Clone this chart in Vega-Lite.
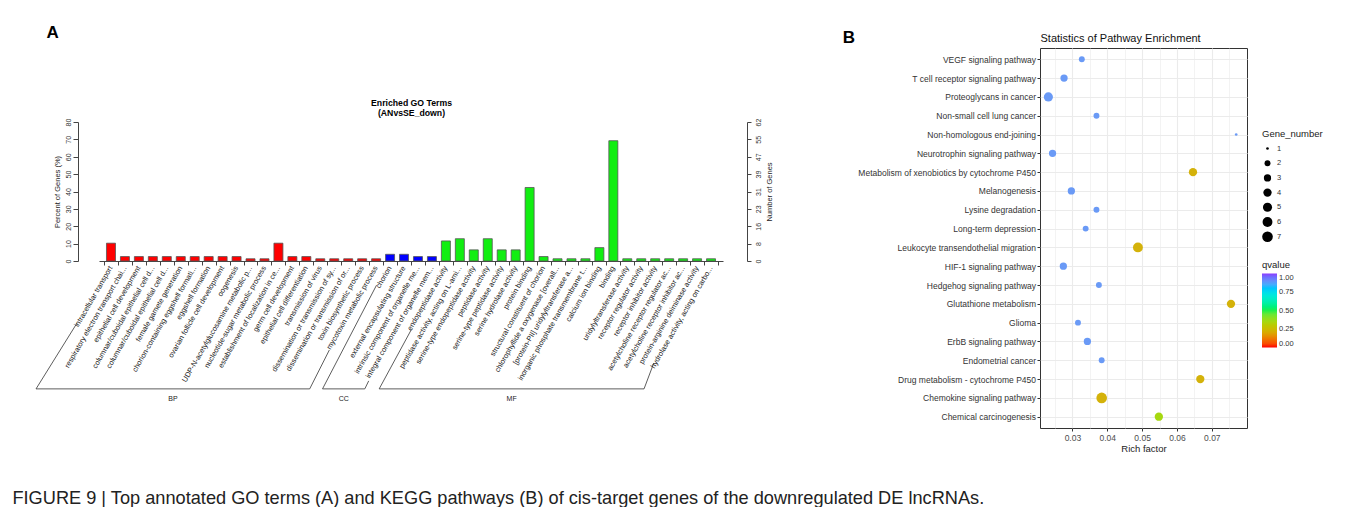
{
  "$schema": "https://vega.github.io/schema/vega-lite/v6.json",
  "background": "white",
  "padding": {"left": 12, "top": 24, "right": 0, "bottom": 0},
  "spacing": 69,
  "columns": 2,
  "align": "none",
  "resolve": {"scale": {"color": "independent", "size": "independent"}, "legend": {"color": "independent", "size": "independent"}},
  "title": {"text": "FIGURE 9 | Top annotated GO terms (A) and KEGG pathways (B) of cis-target genes of the downregulated DE lncRNAs.", "orient": "bottom", "anchor": "start", "frame": "bounds", "fontSize": 18.2, "fontWeight": "normal", "color": "#222", "offset": 36, "dx": -22},
  "config": {
    "font": "Liberation Sans",
    "axis": {"labelColor": "#333", "titleColor": "#222", "domainColor": "#333", "tickColor": "#333", "labelFont": "Liberation Sans", "titleFont": "Liberation Sans", "titleFontWeight": "normal"},
    "legend": {"labelColor": "#333", "titleColor": "#222", "titleFontWeight": "normal", "labelFont": "Liberation Sans", "titleFont": "Liberation Sans"},
    "title": {"font": "Liberation Sans", "color": "#000"}
  },
  "datasets": {
    "go": [
      {"idx": 1, "term": "intracellular transport", "cat": "BP", "pct": 10.26},
      {"idx": 2, "term": "respiratory electron transport chai...", "cat": "BP", "pct": 2.56},
      {"idx": 3, "term": "epithelial cell development", "cat": "BP", "pct": 2.56},
      {"idx": 4, "term": "columnar/cuboidal epithelial cell d...", "cat": "BP", "pct": 2.56},
      {"idx": 5, "term": "columnar/cuboidal epithelial cell d...", "cat": "BP", "pct": 2.56},
      {"idx": 6, "term": "female gamete generation", "cat": "BP", "pct": 2.56},
      {"idx": 7, "term": "chorion-containing eggshell formati...", "cat": "BP", "pct": 2.56},
      {"idx": 8, "term": "eggshell formation", "cat": "BP", "pct": 2.56},
      {"idx": 9, "term": "ovarian follicle cell development", "cat": "BP", "pct": 2.56},
      {"idx": 10, "term": "oogenesis", "cat": "BP", "pct": 2.56},
      {"idx": 11, "term": "UDP-N-acetylglucosamine metabolic p...", "cat": "BP", "pct": 1.28},
      {"idx": 12, "term": "nucleotide-sugar metabolic process", "cat": "BP", "pct": 1.28},
      {"idx": 13, "term": "establishment of localization in ce...", "cat": "BP", "pct": 10.26},
      {"idx": 14, "term": "germ cell development", "cat": "BP", "pct": 2.56},
      {"idx": 15, "term": "epithelial cell differentiation", "cat": "BP", "pct": 2.56},
      {"idx": 16, "term": "transmission of virus", "cat": "BP", "pct": 1.28},
      {"idx": 17, "term": "dissemination or transmission of sy...", "cat": "BP", "pct": 1.28},
      {"idx": 18, "term": "dissemination or transmission of or...", "cat": "BP", "pct": 1.28},
      {"idx": 19, "term": "toxin biosynthetic process", "cat": "BP", "pct": 1.28},
      {"idx": 20, "term": "mycotoxin metabolic process", "cat": "BP", "pct": 1.28},
      {"idx": 21, "term": "chorion", "cat": "CC", "pct": 3.85},
      {"idx": 22, "term": "external encapsulating structure", "cat": "CC", "pct": 3.85},
      {"idx": 23, "term": "intrinsic component of organelle me...", "cat": "CC", "pct": 2.56},
      {"idx": 24, "term": "integral component of organelle mem...", "cat": "CC", "pct": 2.56},
      {"idx": 25, "term": "endopeptidase activity", "cat": "MF", "pct": 11.54},
      {"idx": 26, "term": "peptidase activity, acting on L-ami...", "cat": "MF", "pct": 12.82},
      {"idx": 27, "term": "serine-type endopeptidase activity", "cat": "MF", "pct": 6.41},
      {"idx": 28, "term": "peptidase activity", "cat": "MF", "pct": 12.82},
      {"idx": 29, "term": "serine-type peptidase activity", "cat": "MF", "pct": 6.41},
      {"idx": 30, "term": "serine hydrolase activity", "cat": "MF", "pct": 6.41},
      {"idx": 31, "term": "protein binding", "cat": "MF", "pct": 42.31},
      {"idx": 32, "term": "structural constituent of chorion", "cat": "MF", "pct": 2.56},
      {"idx": 33, "term": "chlorophyllide a oxygenase [overall...", "cat": "MF", "pct": 1.28},
      {"idx": 34, "term": "[protein-PII] uridylyltransferase a...", "cat": "MF", "pct": 1.28},
      {"idx": 35, "term": "inorganic phosphate transmembrane t...", "cat": "MF", "pct": 1.28},
      {"idx": 36, "term": "calcium ion binding", "cat": "MF", "pct": 7.69},
      {"idx": 37, "term": "binding", "cat": "MF", "pct": 69.23},
      {"idx": 38, "term": "uridylyltransferase activity", "cat": "MF", "pct": 1.28},
      {"idx": 39, "term": "receptor regulator activity", "cat": "MF", "pct": 1.28},
      {"idx": 40, "term": "receptor inhibitor activity", "cat": "MF", "pct": 1.28},
      {"idx": 41, "term": "acetylcholine receptor regulator ac...", "cat": "MF", "pct": 1.28},
      {"idx": 42, "term": "acetylcholine receptor inhibitor ac...", "cat": "MF", "pct": 1.28},
      {"idx": 43, "term": "protein-arginine deiminase activity", "cat": "MF", "pct": 1.28},
      {"idx": 44, "term": "hydrolase activity, acting on carbo...", "cat": "MF", "pct": 1.28}
    ],
    "brk": [
      {"g": "BP", "o": 1, "bx": -1.44, "by": -35.8},
      {"g": "BP", "o": 2, "bx": -4.37, "by": -73.6},
      {"g": "BP", "o": 3, "bx": 15.24, "by": -73.6},
      {"g": "BP", "o": 4, "bx": 16.65, "by": -51.2},
      {"g": "CC", "o": 1, "bx": 20.03, "by": -13.9},
      {"g": "CC", "o": 2, "bx": 16.16, "by": -73.6},
      {"g": "CC", "o": 3, "bx": 19.19, "by": -73.6},
      {"g": "CC", "o": 4, "bx": 19.47, "by": -69.0},
      {"g": "MF", "o": 1, "bx": 22.53, "by": -39.4},
      {"g": "MF", "o": 2, "bx": 20.22, "by": -73.6},
      {"g": "MF", "o": 3, "bx": 39.2, "by": -73.6},
      {"g": "MF", "o": 4, "bx": 39.9, "by": -58.7}
    ],
    "grp": [
      {"g": "BP", "gx": 5.44, "gy": -79.4},
      {"g": "CC", "gx": 17.68, "gy": -79.4},
      {"g": "MF", "gx": 29.71, "gy": -79.4}
    ],
    "kegg": [
      {"pathway": "VEGF signaling pathway", "rich": 0.0327, "gene": 2, "q": 0.88},
      {"pathway": "T cell receptor signaling pathway", "rich": 0.0276, "gene": 3, "q": 0.88},
      {"pathway": "Proteoglycans in cancer", "rich": 0.0231, "gene": 5, "q": 0.88},
      {"pathway": "Non-small cell lung cancer", "rich": 0.0369, "gene": 2, "q": 0.88},
      {"pathway": "Non-homologous end-joining", "rich": 0.077, "gene": 1, "q": 0.88},
      {"pathway": "Neurotrophin signaling pathway", "rich": 0.0243, "gene": 3, "q": 0.88},
      {"pathway": "Metabolism of xenobiotics by cytochrome P450", "rich": 0.0646, "gene": 4, "q": 0.22},
      {"pathway": "Melanogenesis", "rich": 0.0297, "gene": 3, "q": 0.88},
      {"pathway": "Lysine degradation", "rich": 0.0369, "gene": 2, "q": 0.88},
      {"pathway": "Long-term depression", "rich": 0.0338, "gene": 2, "q": 0.88},
      {"pathway": "Leukocyte transendothelial migration", "rich": 0.0488, "gene": 6, "q": 0.22},
      {"pathway": "HIF-1 signaling pathway", "rich": 0.0274, "gene": 3, "q": 0.88},
      {"pathway": "Hedgehog signaling pathway", "rich": 0.0376, "gene": 2, "q": 0.88},
      {"pathway": "Glutathione metabolism", "rich": 0.0755, "gene": 4, "q": 0.22},
      {"pathway": "Glioma", "rich": 0.0316, "gene": 2, "q": 0.88},
      {"pathway": "ErbB signaling pathway", "rich": 0.0343, "gene": 3, "q": 0.88},
      {"pathway": "Endometrial cancer", "rich": 0.0384, "gene": 2, "q": 0.88},
      {"pathway": "Drug metabolism - cytochrome P450", "rich": 0.0667, "gene": 4, "q": 0.22},
      {"pathway": "Chemokine signaling pathway", "rich": 0.0384, "gene": 7, "q": 0.22},
      {"pathway": "Chemical carcinogenesis", "rich": 0.0548, "gene": 4, "q": 0.35}
    ]
  },
  "concat": [
    {
      "title": {"text": "A", "anchor": "start", "frame": "bounds", "fontSize": 17, "fontWeight": "bold", "offset": 6, "dx": 12},
      "spacing": 0,
      "vconcat": [
        {
          "width": 10,
          "height": 50,
          "view": {"stroke": null},
          "data": {"values": [{"s": ""}]},
          "mark": {"type": "text"},
          "encoding": {"text": {"field": "s"}}
        },
        {
          "width": 624,
          "height": 139,
          "view": {"stroke": null},
          "resolve": {"axis": {"x": "independent", "y": "independent"}},
          "layer": [
            {
              "data": {"name": "go"},
              "mark": {"type": "bar", "width": 9, "stroke": "#555", "strokeWidth": 0.8},
              "encoding": {
                "x": {"field": "idx", "type": "quantitative", "scale": {"domain": [0.5, 44.5], "nice": false, "zero": false},
                  "axis": {"orient": "bottom", "values": [0.5,1.5,2.5,3.5,4.5,5.5,6.5,7.5,8.5,9.5,10.5,11.5,12.5,13.5,14.5,15.5,16.5,17.5,18.5,19.5,20.5,21.5,22.5,23.5,24.5,25.5,26.5,27.5,28.5,29.5,30.5,31.5,32.5,33.5,34.5,35.5,36.5,37.5,38.5,39.5,40.5,41.5,42.5,43.5,44.5], "labels": false, "title": null, "grid": false, "tickSize": 4, "domainColor": "#444", "tickColor": "#444"}},
                "y": {"field": "pct", "type": "quantitative", "scale": {"domain": [0, 80], "nice": false, "zero": false},
                  "axis": {"orient": "left", "values": [0,10,20,30,40,50,60,70,80], "offset": 21, "title": "Percent of Genes (%)", "labelAngle": -90, "grid": false, "tickSize": 5, "labelFontSize": 7, "titleFontSize": 7.5, "labelPadding": 2, "titlePadding": 3, "domainColor": "#444", "tickColor": "#444"}},
                "color": {"field": "cat", "type": "nominal", "scale": {"domain": ["BP", "CC", "MF"], "range": ["#ff0000", "#0000ff", "#11ee11"]}, "legend": null}
              }
            },
            {
              "data": {"name": "go"},
              "mark": {"type": "bar", "width": 9, "opacity": 0},
              "encoding": {
                "x": {"field": "idx", "type": "quantitative", "scale": {"domain": [0.5, 44.5], "nice": false, "zero": false},
                  "axis": {"orient": "top", "title": ["Enriched GO Terms", "(ANvsSE_down)"], "labels": false, "ticks": false, "domain": false, "grid": false, "titleFontWeight": "bold", "titleFontSize": 8.7, "titleColor": "#000", "titlePadding": 5, "titleLineHeight": 10}},
                "y": {"field": "pct", "type": "quantitative", "scale": {"domain": [0, 80], "nice": false, "zero": false},
                  "axis": {"orient": "right", "values": [0,10,20,30,40,50,60,70,80], "labelExpr": "round(datum.value*0.78)", "offset": 24, "title": "Number of Genes", "titleAngle": 270, "titleBaseline": "top", "labelAngle": -90, "grid": false, "tickSize": 4, "labelFontSize": 7, "titleFontSize": 7.5, "labelPadding": 3, "titlePadding": 4, "domainColor": "#444", "tickColor": "#444"}}
              }
            },
            {
              "data": {"name": "go"},
              "mark": {"type": "text", "angle": 300, "align": "right", "baseline": "middle", "dx": -5, "dy": 3, "fontSize": 7.4, "color": "#222"},
              "encoding": {
                "x": {"field": "idx", "type": "quantitative", "scale": {"domain": [0.5, 44.5], "nice": false, "zero": false}, "axis": null},
                "y": {"datum": 0, "type": "quantitative", "scale": {"domain": [0, 80], "nice": false, "zero": false}, "axis": null},
                "text": {"field": "term"}
              }
            },
            {
              "data": {"name": "brk"},
              "mark": {"type": "line", "color": "#333", "strokeWidth": 0.8},
              "encoding": {
                "x": {"field": "bx", "type": "quantitative", "scale": {"domain": [0.5, 44.5], "nice": false, "zero": false}, "axis": null},
                "y": {"field": "by", "type": "quantitative", "scale": {"domain": [0, 80], "nice": false, "zero": false}, "axis": null},
                "detail": {"field": "g"},
                "order": {"field": "o"}
              }
            },
            {
              "data": {"name": "grp"},
              "mark": {"type": "text", "fontSize": 7, "color": "#222", "baseline": "middle"},
              "encoding": {
                "x": {"field": "gx", "type": "quantitative", "scale": {"domain": [0.5, 44.5], "nice": false, "zero": false}, "axis": null},
                "y": {"field": "gy", "type": "quantitative", "scale": {"domain": [0, 80], "nice": false, "zero": false}, "axis": null},
                "text": {"field": "g"}
              }
            }
          ]
        }
      ]
    },
    {
      "width": 207,
      "height": 380,
      "view": {"stroke": "#333", "strokeWidth": 1},
      "title": {"text": "B", "anchor": "start", "frame": "bounds", "fontSize": 17, "fontWeight": "bold", "offset": -15, "dx": -15},
      "resolve": {"axis": {"x": "independent", "y": "independent"}},
      "layer": [
        {
          "data": {"name": "kegg"},
          "mark": {"type": "circle", "opacity": 1},
          "encoding": {
            "x": {"field": "rich", "type": "quantitative", "scale": {"domain": [0.0207, 0.0801], "nice": false, "zero": false},
              "axis": {"orient": "bottom", "title": "Rich factor", "values": [0.025,0.03,0.035,0.04,0.045,0.05,0.055,0.06,0.065,0.07,0.075], "format": ".2f", "labelOverlap": false,
                "labelOpacity": {"condition": {"test": "abs(datum.value*100 - round(datum.value*100)) > 0.25", "value": 0}, "value": 1},
                "tickOpacity": {"condition": {"test": "abs(datum.value*100 - round(datum.value*100)) > 0.25", "value": 0}, "value": 1},
                "gridWidth": {"condition": {"test": "abs(datum.value*100 - round(datum.value*100)) > 0.25", "value": 0.6}, "value": 1.1},
                "grid": true, "gridColor": "#ebebeb", "tickSize": 3, "labelFontSize": 8.5, "titleFontSize": 9.5, "labelPadding": 2, "titlePadding": 2, "domain": false, "labelColor": "#4d4d4d"}},
            "y": {"field": "pathway", "type": "nominal",
              "sort": ["VEGF signaling pathway", "T cell receptor signaling pathway", "Proteoglycans in cancer", "Non-small cell lung cancer", "Non-homologous end-joining", "Neurotrophin signaling pathway", "Metabolism of xenobiotics by cytochrome P450", "Melanogenesis", "Lysine degradation", "Long-term depression", "Leukocyte transendothelial migration", "HIF-1 signaling pathway", "Hedgehog signaling pathway", "Glutathione metabolism", "Glioma", "ErbB signaling pathway", "Endometrial cancer", "Drug metabolism - cytochrome P450", "Chemokine signaling pathway", "Chemical carcinogenesis"],
              "scale": {"type": "point", "padding": 0.6},
              "axis": {"title": null, "grid": true, "gridColor": "#ebebeb", "gridWidth": 1.1, "tickSize": 3, "labelFontSize": 8.5, "labelColor": "#333", "labelPadding": 1.5, "domain": false}},
            "size": {"field": "gene", "type": "quantitative", "scale": {"domain": [1,2,3,4,5,6,7], "range": [7,35,53,69,83,98,113]},
              "legend": {"title": "Gene_number", "orient": "none", "legendX": 222, "legendY": 81, "values": [1,2,3,4,5,6,7], "symbolFillColor": "#000", "symbolStrokeColor": "#000", "symbolStrokeWidth": 0, "symbolOpacity": 1, "symbolType": "circle", "titleFontSize": 9.5, "labelFontSize": 7.5, "clipHeight": 12, "rowPadding": 2.7, "titlePadding": 4, "titleAnchor": "start"}},
            "color": {"field": "q", "type": "quantitative", "scale": {"domain": [0, 0.1, 0.22, 0.35, 0.5, 0.72, 0.88, 1], "range": ["#ff0000", "#f26b00", "#d4b20a", "#a6d810", "#1ef04a", "#22e8e0", "#6a9af6", "#8c3cff"]},
              "legend": {"title": "qvalue", "orient": "none", "legendX": 222, "legendY": 212, "direction": "vertical", "gradientLength": 74, "gradientThickness": 15, "values": [0, 0.25, 0.5, 0.75, 1], "format": ".2f", "titleFontSize": 9.5, "labelFontSize": 7.5, "titlePadding": 4, "titleAnchor": "start"}}
          }
        },
        {
          "data": {"name": "kegg"},
          "mark": {"type": "circle", "opacity": 0},
          "encoding": {
            "x": {"field": "rich", "type": "quantitative", "scale": {"domain": [0.0207, 0.0801], "nice": false, "zero": false},
              "axis": {"orient": "top", "title": "Statistics of Pathway Enrichment", "labels": false, "ticks": false, "domain": false, "grid": false, "titleAnchor": "start", "titleFontSize": 11, "titleFontWeight": "normal", "titleColor": "#111", "titlePadding": 5}},
            "y": {"field": "pathway", "type": "nominal",
              "sort": ["VEGF signaling pathway", "T cell receptor signaling pathway", "Proteoglycans in cancer", "Non-small cell lung cancer", "Non-homologous end-joining", "Neurotrophin signaling pathway", "Metabolism of xenobiotics by cytochrome P450", "Melanogenesis", "Lysine degradation", "Long-term depression", "Leukocyte transendothelial migration", "HIF-1 signaling pathway", "Hedgehog signaling pathway", "Glutathione metabolism", "Glioma", "ErbB signaling pathway", "Endometrial cancer", "Drug metabolism - cytochrome P450", "Chemokine signaling pathway", "Chemical carcinogenesis"],
              "scale": {"type": "point", "padding": 0.6}, "axis": null}
          }
        }
      ]
    }
  ]
}
